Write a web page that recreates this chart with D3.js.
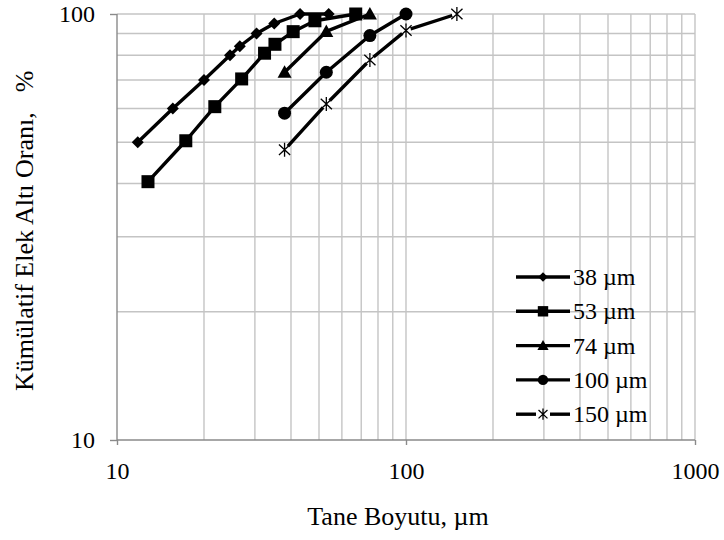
<!DOCTYPE html>
<html>
<head>
<meta charset="utf-8">
<script src="https://cdn.jsdelivr.net/npm/d3@7"></script>
<style>
  html, body { margin: 0; padding: 0; background: #fff; }
  svg { display: block; }
  text { font-family: "Liberation Serif", "Times New Roman", serif; fill: #000; }
</style>
</head>
<body>
<svg id="chart" width="724" height="540"></svg>
<script>
// Cumulative undersize (%) versus particle size (µm), one curve per feed size
const seriesNames = ["38 µm", "53 µm", "74 µm", "100 µm", "150 µm"];
const markerTypes = ["diamond", "square", "triangle", "circle", "star"];

const size38 = [11.8, 15.6, 20, 24.6, 26.6, 30.4, 35, 43, 54];
const pass38 = [50, 60, 70, 80, 84, 90, 95, 100, 100];

const size53 = [12.8, 17.3, 21.8, 27, 32.4, 35.2, 40.7, 48.4, 67];
const pass53 = [40.4, 50.4, 60.6, 70.4, 80.9, 84.9, 90.9, 96.4, 100];

const size74 = [38, 53, 75];
const pass74 = [73, 91, 100];

const size100 = [38, 53, 75, 100];
const pass100 = [58.5, 73, 89, 100];

const size150 = [38, 53, 75, 100, 150];
const pass150 = [48, 61.5, 78, 91.5, 100];

const xTicks = [10, 100, 1000];
const yTicks = [10, 100];
const xTitle = "Tane Boyutu, µm";
const yTitleMain = "Kümülatif Elek Altı Oranı,";
const yTitleUnit = "%";

const series = [
  { name: seriesNames[0], marker: markerTypes[0], xs: size38, ys: pass38 },
  { name: seriesNames[1], marker: markerTypes[1], xs: size53, ys: pass53 },
  { name: seriesNames[2], marker: markerTypes[2], xs: size74, ys: pass74 },
  { name: seriesNames[3], marker: markerTypes[3], xs: size100, ys: pass100 },
  { name: seriesNames[4], marker: markerTypes[4], xs: size150, ys: pass150 }
];

const svg = d3.select("#chart");
const plotL = 117, plotR = 695, plotT = 14, plotB = 440;

const x = d3.scaleLog().domain([10, 1000]).range([plotL, plotR]);
const y = d3.scaleLog().domain([10, 100]).range([plotB, plotT]);

const gridColor = "#c4c4c4";
const axisColor = "#8a8a8a";

// minor + major gridlines
const xGrid = [];
[10, 100].forEach(d => { for (let k = 2; k <= 10; k++) xGrid.push(d * k); });
const yGrid = [];
for (let k = 2; k <= 10; k++) yGrid.push(10 * k);

const grid = svg.append("g");
grid.selectAll("line.vx").data(xGrid).enter().append("line")
  .attr("x1", d => x(d)).attr("x2", d => x(d))
  .attr("y1", plotT).attr("y2", plotB)
  .attr("stroke", gridColor).attr("stroke-width", 1.4);
grid.selectAll("line.hy").data(yGrid).enter().append("line")
  .attr("x1", plotL).attr("x2", plotR)
  .attr("y1", d => y(d)).attr("y2", d => y(d))
  .attr("stroke", gridColor).attr("stroke-width", 1.4);

// axes
const xAxis = d3.axisBottom(x).tickValues(xTicks).tickFormat(d3.format("d"))
  .tickSize(5).tickPadding(17);
const yAxis = d3.axisLeft(y).tickValues(yTicks).tickFormat(d3.format("d"))
  .tickSize(7).tickPadding(15);

const gx = svg.append("g").attr("transform", `translate(0,${plotB})`).call(xAxis);
const gy = svg.append("g").attr("transform", `translate(${plotL},0)`).call(yAxis);
[gx, gy].forEach(g => {
  g.select(".domain").attr("stroke", axisColor).attr("stroke-width", 1.4);
  g.selectAll(".tick line").attr("stroke", axisColor).attr("stroke-width", 1.4);
  g.selectAll(".tick text").attr("font-size", 24)
    .attr("font-family", "Liberation Serif, Times New Roman, serif").attr("fill", "#000");
});
gy.select(".domain").attr("d", `M0,${plotB}V${plotT}`);
gx.select(".domain").attr("d", `M${plotL},0H${plotR}`);

// axis titles
svg.append("text")
  .attr("x", 398).attr("y", 525)
  .attr("text-anchor", "middle").attr("font-size", 26)
  .text(xTitle);
const yt = svg.append("text")
  .attr("transform", `translate(33,391) rotate(-90)`)
  .attr("text-anchor", "start").attr("font-size", 26);
yt.append("tspan").text(yTitleMain);
yt.append("tspan").attr("dx", 20).text(yTitleUnit);

// marker drawing
function drawMarker(g, type, cx, cy, scale) {
  const s = scale || 1;
  if (type === "diamond") {
    const r = 6 * s;
    g.append("path").attr("d", `M${cx},${cy - r}L${cx + r},${cy}L${cx},${cy + r}L${cx - r},${cy}Z`)
      .attr("fill", "#000");
  } else if (type === "square") {
    const h = 6.5 * s;
    g.append("rect").attr("x", cx - h).attr("y", cy - h).attr("width", 2 * h).attr("height", 2 * h)
      .attr("fill", "#000");
  } else if (type === "triangle") {
    const h = 7 * s;
    g.append("path").attr("d", `M${cx},${cy - h}L${cx + h},${cy + h * 0.8}L${cx - h},${cy + h * 0.8}Z`)
      .attr("fill", "#000");
  } else if (type === "circle") {
    g.append("circle").attr("cx", cx).attr("cy", cy).attr("r", 6.5 * s).attr("fill", "#000");
  } else if (type === "star") {
    const r = 7 * s;
    const p = [];
    p.push(`M${cx - r * 0.8},${cy - r * 0.75}L${cx + r * 0.8},${cy + r * 0.75}`);
    p.push(`M${cx + r * 0.8},${cy - r * 0.75}L${cx - r * 0.8},${cy + r * 0.75}`);
    p.push(`M${cx},${cy - r}L${cx},${cy + r}`);
    g.append("path").attr("d", p.join("")).attr("stroke", "#000").attr("stroke-width", 1.3)
      .attr("fill", "none");
  }
}

const line = d3.line().x(d => x(d[0])).y(d => y(d[1]));
const plot = svg.append("g");
series.forEach(s => {
  const pts = s.xs.map((v, i) => [v, s.ys[i]]);
  plot.append("path").datum(pts).attr("d", line)
    .attr("fill", "none").attr("stroke", "#000").attr("stroke-width", 3.4)
    .attr("stroke-linejoin", "round");
  if (s.marker === "star") {
    // white halo behind each star so the line breaks around it
    pts.forEach(p => plot.append("circle").attr("cx", x(p[0])).attr("cy", y(p[1]))
      .attr("r", 5).attr("fill", "#fff"));
  }
  pts.forEach(p => drawMarker(plot, s.marker, x(p[0]), y(p[1])));
});

// legend
const legend = svg.append("g");
const lgX0 = 516, lgX1 = 570, lgY0 = 277, lgStep = 34.3;
series.forEach((s, i) => {
  const cy = lgY0 + i * lgStep;
  if (s.marker === "star") {
    legend.append("line").attr("x1", lgX0).attr("x2", lgX0 + 20).attr("y1", cy).attr("y2", cy)
      .attr("stroke", "#000").attr("stroke-width", 3.4);
    legend.append("line").attr("x1", lgX1 - 20).attr("x2", lgX1).attr("y1", cy).attr("y2", cy)
      .attr("stroke", "#000").attr("stroke-width", 3.4);
  } else {
    legend.append("line").attr("x1", lgX0).attr("x2", lgX1).attr("y1", cy).attr("y2", cy)
      .attr("stroke", "#000").attr("stroke-width", 3.4);
  }
  drawMarker(legend, s.marker, (lgX0 + lgX1) / 2, cy, 0.8);
  legend.append("text").attr("x", lgX1 + 3).attr("y", cy + 8)
    .attr("font-size", 24).text(s.name);
});
</script>
</body>
</html>
